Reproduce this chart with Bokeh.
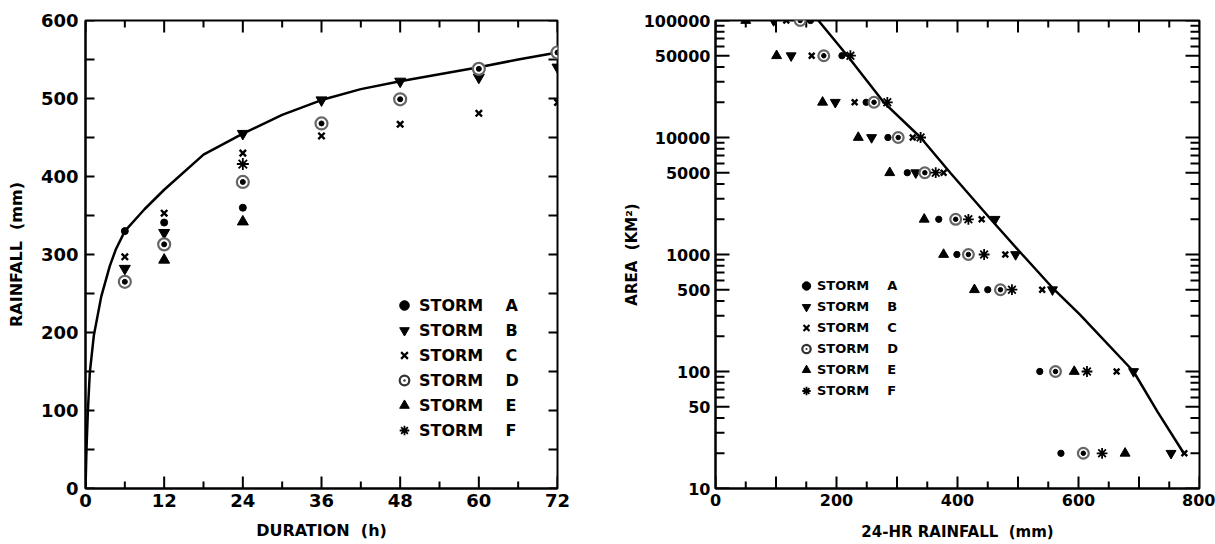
import math
from bokeh.plotting import figure
from bokeh.layouts import row
from bokeh.models import FixedTicker, Legend, LegendItem
from bokeh.embed import file_html
from bokeh.resources import INLINE

FONT = "DejaVu Sans"
NB = "\u00a0"
NAN = float("nan")

# ---------------- data: left chart (depth-duration) ----------------
duration_range = (0, 72)
rain_range = (0, 600)
duration_ticks = [0, 12, 24, 36, 48, 60, 72]
duration_minor = [6, 18, 30, 42, 54, 66]
rain_ticks = [0, 100, 200, 300, 400, 500, 600]
rain_minor = [50, 150, 250, 350, 450, 550]

curve_dur = [0, 0.15, 0.35, 0.66, 1.27, 2.4, 3.7, 4.6, 6, 9, 12, 18, 24, 30, 36, 42, 48, 54, 60, 66, 72]
curve_rain = [0, 50, 97, 149, 196, 246, 285, 306, 330, 358, 383, 428, 455, 479, 498, 512, 522, 531, 540, 550, 559]

a_dur = [6, 12, 24]
a_rain = [330, 341, 360]
b_dur = [6, 12, 24, 36, 48, 60, 72]
b_rain = [282, 328, 455, 498, 522, 527, 540]
c_dur = [6, 12, 24, 36, 48, 60, 72]
c_rain = [297, 353, 430, 452, 467, 481, 495]
d_dur = [6, 12, 24, 36, 48, 60, 72]
d_rain = [265, 313, 393, 468, 499, 538, 559]
e_dur = [12, 24]
e_rain = [293, 342]
f_dur = [24]
f_rain = [416]

# ---------------- data: right chart (depth-area) ----------------
rain24_range = (0, 800)
area_range = (10, 100000)
rain24_ticks = [0, 100, 200, 300, 400, 500, 600, 700, 800]
rain24_labels = ["0", "", "200", "", "400", "", "600", "", "800"]
rain24_minor = [50, 150, 250, 350, 450, 550, 650, 750]
area_ticks = [10, 50, 100, 500, 1000, 5000, 10000, 50000, 100000]
area_labels = ["10", "50", "100", "500", "1000", "5000", "10000", "50000", "100000"]
area_minor = [20, 30, 40, 60, 70, 80, 90,
              200, 300, 400, 600, 700, 800, 900,
              2000, 3000, 4000, 6000, 7000, 8000, 9000,
              20000, 30000, 40000, 60000, 70000, 80000, 90000]

env_rain = [170, 218, 278, 339, 388, 455, 507, 560, 602, 691, 731, 774]
env_area = [100000, 50000, 20000, 10000, 5000, 2000, 1000, 500, 308, 100, 45, 20]

areas = [100000, 50000, 20000, 10000, 5000, 2000, 1000, 500, 100, 20]
a_r24 = [157, 209, 249, 285, 317, 369, 399, 450, 536, 571]
b_r24 = [96, 125, 198, 258, 331, 462, 496, 557, 691, 753]
c_r24 = [117, 159, 230, 326, 377, 440, 479, 540, 663, 775]
d_r24 = [140, 179, 262, 302, 346, 397, 418, 471, 562, 608]
e_r24 = [50, 101, 177, 236, 288, 345, 377, 428, 593, 677]
f_areas = [50000, 20000, 10000, 5000, 2000, 1000, 500, 100, 20]
f_r24 = [223, 284, 339, 364, 418, 444, 490, 614, 639]

storm_names = ["A", "B", "C", "D", "E", "F"]


def style_axis(ax, label_size, standoff):
    ax.axis_line_color = "black"
    ax.axis_line_width = 2
    ax.major_tick_in = 0
    ax.major_tick_out = 0
    ax.minor_tick_in = 0
    ax.minor_tick_out = 0
    ax.major_tick_line_color = None
    ax.minor_tick_line_color = None
    ax.major_label_text_font = FONT
    ax.major_label_text_font_style = "bold"
    ax.major_label_text_color = "black"
    ax.major_label_text_font_size = label_size
    ax.major_label_standoff = standoff
    ax.axis_label_text_font = FONT
    ax.axis_label_text_font_style = "bold"
    ax.axis_label_text_color = "black"


def inward_ticks(p, xr, yr, xmaj, xmin_, ymaj, ymin_, lx_maj, lx_min, ly_maj, ly_min):
    # tick marks drawn as dashes centred on the frame edges (the frame clips the outer half)
    for yv in yr:
        p.scatter(xmaj, [yv] * len(xmaj), marker="dash", angle=math.pi / 2,
                  size=2 * lx_maj, line_color="black", line_width=2)
        p.scatter(xmin_, [yv] * len(xmin_), marker="dash", angle=math.pi / 2,
                  size=2 * lx_min, line_color="black", line_width=2)
    for xv in xr:
        p.scatter([xv] * len(ymaj), ymaj, marker="dash",
                  size=2 * ly_maj, line_color="black", line_width=2)
        p.scatter([xv] * len(ymin_), ymin_, marker="dash",
                  size=2 * ly_min, line_color="black", line_width=2)


def add_storms(p, data, k=1.0):
    (ax_, ay), (bx, by), (cx, cy), (dx, dy), (ex, ey), (fx, fy) = data
    p.scatter(ax_, ay, marker="circle", size=7 * k, color="black")
    p.scatter(bx, by, marker="inverted_triangle", size=11 * k, color="black")
    p.scatter(cx, cy, marker="x", size=9 * k, line_color="black", line_width=2.4)
    p.scatter(dx, dy, marker="circle", size=12 * k, fill_color="white",
              line_color="#666666", line_width=2.2)
    p.scatter(dx, dy, marker="circle", size=5 * k, color="black")
    p.scatter(ex, ey, marker="triangle", size=11 * k, color="black")
    p.scatter(fx, fy, marker="asterisk", size=12 * k, line_color="black", line_width=1.8)


def legend_renderers(p):
    # renderers holding one undrawn (NaN) point, used only for the legend swatches
    return [
        p.scatter([NAN], [NAN], marker="circle", size=6, color="black"),
        p.scatter([NAN], [NAN], marker="inverted_triangle", size=10, color="black"),
        p.scatter([NAN], [NAN], marker="x", size=8, line_color="black", line_width=2.2),
        p.scatter([NAN], [NAN], marker="circle_dot", size=11, fill_color="white",
                  line_color="#333333", line_width=2.2),
        p.scatter([NAN], [NAN], marker="triangle", size=10, color="black"),
        p.scatter([NAN], [NAN], marker="asterisk", size=10, line_color="black", line_width=1.8),
    ]


# ================= LEFT FIGURE =================
p1 = figure(width=598, height=544, x_range=duration_range, y_range=rain_range,
            output_backend="svg", toolbar_location=None,
            min_border_left=85, min_border_right=41, min_border_top=20, min_border_bottom=56)
p1.grid.visible = False
p1.outline_line_color = "black"
p1.outline_line_width = 2

bx1 = p1.xaxis[0]
bx1.ticker = FixedTicker(ticks=duration_ticks)
style_axis(bx1, "18px", 5)
bx1.axis_label = "DURATION" + NB * 2 + "(h)"
bx1.axis_label_text_font_size = "16px"
bx1.axis_label_standoff = 11

ly1 = p1.yaxis[0]
ly1.ticker = FixedTicker(ticks=rain_ticks)
style_axis(ly1, "18px", 7)
ly1.axis_label = "RAINFALL" + NB * 2 + "(mm)"
ly1.axis_label_text_font_size = "16px"
ly1.axis_label_standoff = 12

inward_ticks(p1, duration_range, rain_range, duration_ticks, duration_minor,
             rain_ticks, rain_minor, 12, 7, 9, 9)

p1.line(curve_dur, curve_rain, line_color="black", line_width=2.5)
add_storms(p1, [(a_dur, a_rain), (b_dur, b_rain), (c_dur, c_rain),
                (d_dur, d_rain), (e_dur, e_rain), (f_dur, f_rain)])
lr1 = legend_renderers(p1)

leg1 = Legend(items=[LegendItem(label="STORM" + NB * 4 + n, renderers=[r])
                     for n, r in zip(storm_names, lr1)],
              location=(307, 46), glyph_width=24, glyph_height=24, label_standoff=3,
              spacing=1, padding=0, margin=0, label_height=20,
              background_fill_alpha=0, border_line_alpha=0,
              label_text_font=FONT, label_text_font_style="bold",
              label_text_font_size="16px", label_text_color="black")
p1.add_layout(leg1)

# ================= RIGHT FIGURE =================
p2 = figure(width=617, height=544, x_range=rain24_range, y_range=area_range, y_axis_type="log",
            output_backend="svg", toolbar_location=None,
            min_border_left=117, min_border_right=16, min_border_top=20, min_border_bottom=56)
p2.grid.visible = False
p2.outline_line_color = "black"
p2.outline_line_width = 2

bx2 = p2.xaxis[0]
bx2.ticker = FixedTicker(ticks=rain24_ticks)
style_axis(bx2, "16px", 5)
bx2.major_label_overrides = {t: l for t, l in zip(rain24_ticks, rain24_labels)}
bx2.axis_label = "24-HR RAINFALL" + NB * 2 + "(mm)"
bx2.axis_label_text_font_size = "15px"
bx2.axis_label_standoff = 14

ly2 = p2.yaxis[0]
ly2.ticker = FixedTicker(ticks=area_ticks)
style_axis(ly2, "16px", 5)
ly2.major_label_overrides = {t: l for t, l in zip(area_ticks, area_labels)}
ly2.axis_label = "AREA" + NB * 2 + "(KM\u00b2)"
ly2.axis_label_text_font_size = "15px"
ly2.axis_label_standoff = 0

inward_ticks(p2, rain24_range, area_range, rain24_ticks, rain24_minor,
             area_ticks, area_minor, 12, 7, 14, 9)

p2.line(env_rain, env_area, line_color="black", line_width=2.5)
add_storms(p2, [(a_r24, areas), (b_r24, areas), (c_r24, areas),
                (d_r24, areas), (e_r24, areas), (f_r24, f_areas)], k=0.9)
lr2 = legend_renderers(p2)

leg2 = Legend(items=[LegendItem(label="STORM" + NB * 4 + n, renderers=[r])
                     for n, r in zip(storm_names, lr2)],
              location=(80, 87), glyph_width=22, glyph_height=21, label_standoff=0,
              spacing=0, padding=0, margin=0, label_height=20,
              background_fill_alpha=0, border_line_alpha=0,
              label_text_font=FONT, label_text_font_style="bold",
              label_text_font_size="13px", label_text_color="black")
p2.add_layout(leg2)

layout = row(p1, p2)
open("out.html", "w").write(file_html(layout, INLINE))
